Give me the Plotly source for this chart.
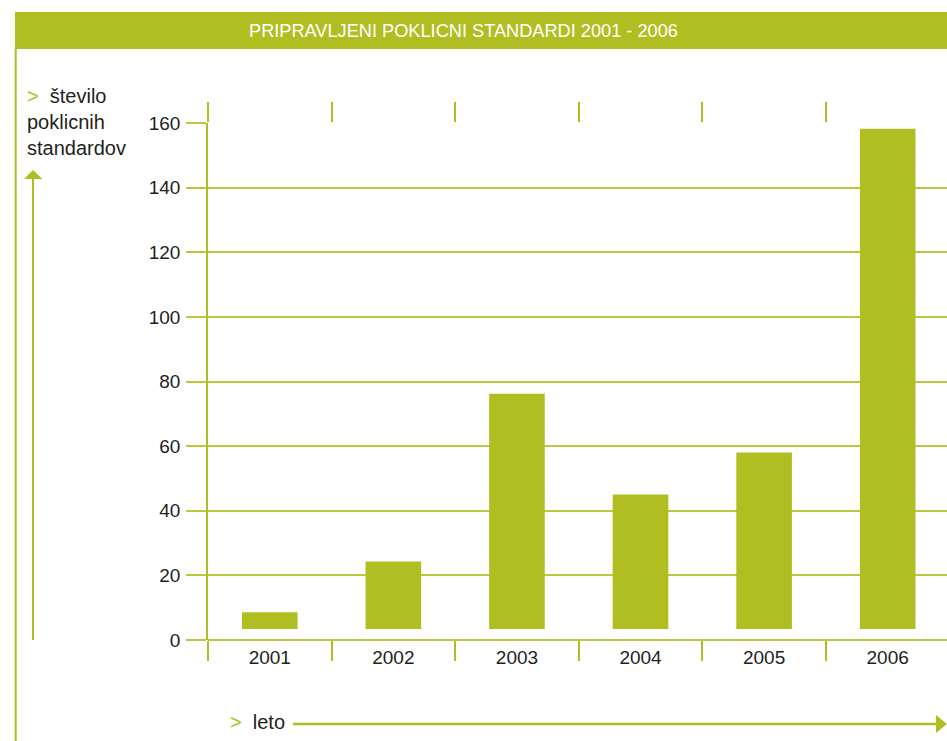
import plotly.graph_objects as go

# ---- data ----
years = ["2001", "2002", "2003", "2004", "2005", "2006"]
bar_tops = [8.6, 24.3, 76.2, 45.0, 58.0, 158.2]
bar_base = 3.4
y_ticks = [0, 20, 40, 60, 80, 100, 120, 140, 160]

title_text = "PRIPRAVLJENI POKLICNI STANDARDI 2001 - 2006"
y_label_lines = ["število", "poklicnih", "standardov"]
x_label = "leto"

# ---- style ----
GREEN = "#B0BE22"
GRID = "#BCC741"
TEXT = "#231F20"
FONT = "Liberation Sans"

W, H = 947, 741
ML, MR, MT, MB = 208, 0, 123, 101
PW, PH = W - ML - MR, H - MT - MB


def px(x):
    return (x - ML) / PW


def py(y):
    return 1 - (y - MT) / PH


fig = go.Figure()
fig.add_trace(go.Bar(
    x=years,
    y=[t - bar_base for t in bar_tops],
    base=[bar_base] * len(years),
    marker=dict(color=GREEN, line=dict(width=0)),
    width=0.45,
    hoverinfo="skip",
))

shapes = []
# title bar
shapes.append(dict(type="rect", xref="paper", yref="paper",
                   x0=px(15), x1=px(947), y0=py(49), y1=py(12),
                   fillcolor=GREEN, line=dict(width=0), layer="above"))
# left frame line
shapes.append(dict(type="line", xref="paper", yref="paper",
                   x0=px(15.7), x1=px(15.7), y0=py(49), y1=py(741),
                   line=dict(color=GREEN, width=2)))
# y arrow
shapes.append(dict(type="line", xref="paper", yref="paper",
                   x0=px(33), x1=px(33), y0=py(640), y1=py(178),
                   line=dict(color=GREEN, width=2)))
shapes.append(dict(type="path", xref="paper", yref="paper",
                   path=f"M {px(24)},{py(179)} L {px(33)},{py(170)} L {px(42.5)},{py(179)} Z",
                   fillcolor=GREEN, line=dict(width=0)))
# x arrow
shapes.append(dict(type="line", xref="paper", yref="paper",
                   x0=px(293), x1=px(937), y0=py(724), y1=py(724),
                   line=dict(color=GREEN, width=2.5)))
shapes.append(dict(type="path", xref="paper", yref="paper",
                   path=f"M {px(936)},{py(715)} L {px(947)},{py(724)} L {px(936)},{py(733)} Z",
                   fillcolor=GREEN, line=dict(width=0)))

annotations = [
    dict(text=title_text, xref="paper", yref="paper", x=px(247), y=py(31),
         xanchor="left", yanchor="middle", showarrow=False,
         font=dict(family=FONT, size=18.2, color="white")),
    dict(text=f"<span style='color:{GREEN}'>&gt;</span>  " + "<br>".join(y_label_lines),
         xref="paper", yref="paper", x=px(25), y=py(83),
         xanchor="left", yanchor="top", align="left", showarrow=False,
         font=dict(family=FONT, size=20, color=TEXT)),
    dict(text=f"<span style='color:{GREEN}'>&gt;</span>  " + x_label,
         xref="paper", yref="paper", x=px(228), y=py(722),
         xanchor="left", yanchor="middle", showarrow=False,
         font=dict(family=FONT, size=20, color=TEXT)),
]

fig.update_layout(
    width=W, height=H, autosize=False,
    margin=dict(l=ML, r=MR, t=MT, b=MB, pad=0),
    paper_bgcolor="white", plot_bgcolor="white",
    showlegend=False,
    shapes=shapes, annotations=annotations,
    xaxis=dict(
        type="category", categoryorder="array", categoryarray=years,
        range=[-0.5, 5.48],
        showgrid=False, zeroline=False, showline=False,
        tickson="boundaries", ticks="outside", ticklen=20, tickwidth=1.5,
        tickcolor=GREEN, mirror="ticks",
        tickfont=dict(family=FONT, size=19, color=TEXT),
        ticklabelstandoff=4,
        fixedrange=True,
    ),
    yaxis=dict(
        range=[0, 160], tickvals=y_ticks, ticktext=[str(v) for v in y_ticks],
        showgrid=True, gridcolor=GRID, gridwidth=2,
        zeroline=True, zerolinecolor=GRID, zerolinewidth=2,
        showline=True, linecolor=GREEN, linewidth=1.5,
        ticks="outside", ticklen=20, tickwidth=2, tickcolor=GRID,
        tickfont=dict(family=FONT, size=19, color=TEXT),
        ticklabelstandoff=2,
        fixedrange=True,
    ),
)

fig.write_html(
    "out.html",
    config={"displayModeBar": False},
    post_script="document.body.style.margin='0';document.body.style.padding='0';",
)
